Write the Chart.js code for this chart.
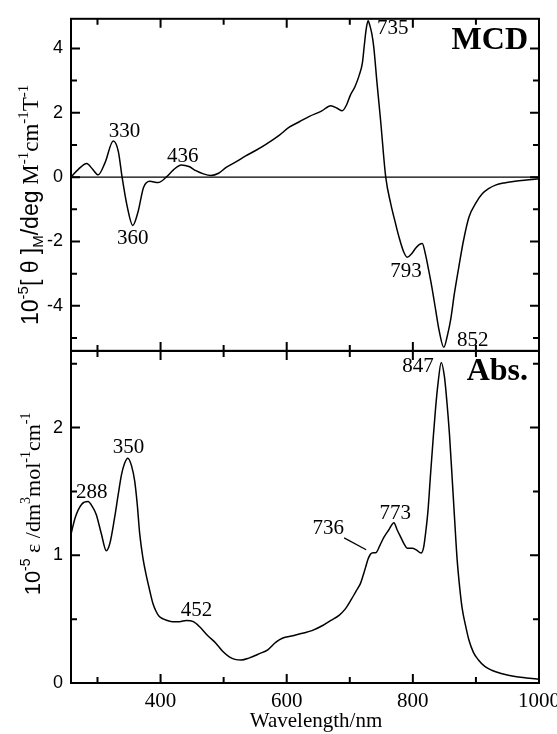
<!DOCTYPE html>
<html>
<head>
<meta charset="utf-8">
<script src="https://cdn.jsdelivr.net/npm/chart.js@4"></script>
<style>
  html, body { margin: 0; padding: 0; background: #fff; }
  #wrap { position: relative; width: 557px; height: 734px; }
</style>
</head>
<body>
<div id="wrap"><canvas id="spectra"></canvas></div>
<script>
// MCD spectrum (10^-5 [theta]M)
const mcdNm = [258, 270, 283, 292, 301, 312, 325, 333, 339, 347, 356, 364, 373, 383, 396, 409, 420, 433, 445, 456,
  468, 480, 492, 504, 520, 535, 550, 567, 588, 604, 620, 636, 655, 670, 680, 688, 695, 701, 708, 715,
  720, 723, 726, 729, 732, 735, 738, 743, 749, 757, 765, 772, 778, 785, 791, 798, 804, 810, 815, 820,
  825, 830, 836, 842, 849, 855, 860, 866, 873, 880, 889, 900, 910, 920, 931, 945, 962, 980, 1000];
const mcdVal = [0.0, 0.25, 0.42, 0.25, 0.07, 0.45, 1.12, 0.8, 0.0, -0.9, -1.5, -1.1, -0.32, -0.13, -0.17, 0.0, 0.22, 0.38, 0.33, 0.2,
  0.1, 0.05, 0.12, 0.3, 0.48, 0.66, 0.82, 1.02, 1.3, 1.55, 1.72, 1.89, 2.05, 2.22, 2.14, 2.06, 2.25, 2.55, 2.8, 3.17,
  3.55, 4.09, 4.6, 4.86, 4.7, 4.45, 4.05, 2.96, 1.73, 0.0, -0.83, -1.4, -1.86, -2.3, -2.49, -2.38, -2.22, -2.1, -2.06, -2.4,
  -2.88, -3.4, -4.11, -4.8, -5.29, -4.9, -4.42, -3.6, -2.78, -2.0, -1.24, -0.8, -0.52, -0.36, -0.25, -0.18, -0.13, -0.09, -0.05];

// Absorption spectrum (10^-5 epsilon)
const absNm = [258, 265, 275, 285, 292, 298, 306, 314, 320, 327, 333, 338, 343, 348, 354, 359, 363, 367, 372, 377,
  383, 388, 393, 398, 405, 419, 430, 441, 452, 462, 475, 488, 498, 509, 518, 528, 540, 557, 570, 583,
  593, 610, 625, 640, 657, 670, 683, 693, 702, 710, 717, 721, 725, 729, 733, 737, 741, 748, 754, 762,
  770, 775, 781, 786, 791, 795, 799, 806, 813, 817, 820, 824, 828, 832, 836, 840, 845, 850, 854, 858,
  862, 866, 870, 874, 878, 884, 889, 896, 904, 914, 925, 940, 962, 980, 1000];
const absVal = [1.165, 1.3, 1.4, 1.42, 1.38, 1.32, 1.17, 1.035, 1.1, 1.29, 1.48, 1.63, 1.72, 1.76, 1.7, 1.58, 1.4, 1.165, 0.98, 0.85,
  0.72, 0.62, 0.56, 0.52, 0.5, 0.48, 0.48, 0.49, 0.48, 0.44, 0.37, 0.31, 0.25, 0.205, 0.185, 0.18, 0.195, 0.23, 0.26, 0.32,
  0.35, 0.37, 0.39, 0.41, 0.45, 0.49, 0.53, 0.58, 0.65, 0.72, 0.78, 0.84, 0.905, 0.97, 1.01, 1.02, 1.02, 1.08, 1.14, 1.2,
  1.255, 1.2, 1.14, 1.09, 1.055, 1.055, 1.055, 1.04, 1.017, 1.06, 1.165, 1.35, 1.63, 1.9, 2.15, 2.35, 2.51, 2.4, 2.2, 1.95,
  1.63, 1.3, 0.98, 0.76, 0.59, 0.44, 0.335, 0.24, 0.18, 0.13, 0.1, 0.075, 0.05, 0.04, 0.03];

// tick labels
const xTicks = [400, 600, 800, 1000];
const mcdTicks = [-4, -2, 0, 2, 4];
const absTicks = [0, 1, 2];

// peak labels: [text, nm, value]
const mcdLabels = [['330', 343, 1.42], ['360', 356, -1.91], ['436', 435, 0.65], ['735', 768, 4.62],
  ['793', 789, -2.92], ['852', 895, -5.08]];
const absLabels = [['288', 291, 1.49], ['350', 349, 1.84], ['452', 457, 0.57], ['736', 666, 1.21],
  ['773', 772, 1.33], ['847', 808, 2.48]];

const SERIF = '"Liberation Serif", "Times New Roman", serif';
const SANS = '"Liberation Sans", Arial, sans-serif';

function toPts(xs, ys) {
  return xs.map((x, i) => ({x: x, y: ys[i]}));
}

// draws a run of text pieces centred on 0; each piece [text, 'n'|'sup'|'sub', font]
function drawRich(ctx, pieces, size) {
  let total = 0;
  const parts = pieces.map(p => {
    const s = p[1] === 'n' ? size : Math.round(size * 0.65);
    ctx.font = s + 'px ' + p[2];
    const w = ctx.measureText(p[0]).width;
    total += w;
    return {t: p[0], kind: p[1], font: ctx.font, w: w};
  });
  let x = -total / 2;
  const base = size * 0.35;
  parts.forEach(p => {
    ctx.font = p.font;
    let dy = 0;
    if (p.kind === 'sup') dy = -size * 0.42;
    if (p.kind === 'sub') dy = size * 0.22;
    ctx.fillText(p.t, x, base + dy);
    x += p.w;
  });
}

const framePlugin = {
  id: 'frame',
  afterDatasetsDraw(chart) {
    const ctx = chart.ctx;
    const xs = chart.scales.x;
    const panels = [chart.scales.yMcd, chart.scales.yAbs];
    const left = chart.chartArea.left, right = chart.chartArea.right;
    ctx.save();
    ctx.strokeStyle = '#000';
    ctx.fillStyle = '#000';

    // zero line of MCD
    const y0 = chart.scales.yMcd.getPixelForValue(0);
    ctx.lineWidth = 1.2;
    ctx.beginPath();
    ctx.moveTo(left, y0);
    ctx.lineTo(right, y0);
    ctx.stroke();

    // frames and inward ticks
    ctx.lineWidth = 2;
    panels.forEach(ys => {
      ctx.strokeRect(left, ys.top, right - left, ys.bottom - ys.top);
      ctx.beginPath();
      for (let v = 300; v < 1000; v += 100) {
        const px = xs.getPixelForValue(v);
        const len = v % 200 === 0 ? 9 : 6;
        ctx.moveTo(px, ys.top); ctx.lineTo(px, ys.top + len);
        ctx.moveTo(px, ys.bottom); ctx.lineTo(px, ys.bottom - len);
      }
      ctx.stroke();
    });

    const yTickSets = [
      [chart.scales.yMcd, -5, 4, 1, 2],
      [chart.scales.yAbs, 0.5, 2.5, 0.5, 1]
    ];
    yTickSets.forEach(([ys, from, to, step, major]) => {
      ctx.beginPath();
      for (let v = from; v <= to + 1e-9; v += step) {
        const py = ys.getPixelForValue(v);
        const isMajor = Math.abs(v / major - Math.round(v / major)) < 1e-6;
        const len = isMajor ? 9 : 6;
        ctx.moveTo(left, py); ctx.lineTo(left + len, py);
        ctx.moveTo(right, py); ctx.lineTo(right - len, py);
      }
      ctx.stroke();
    });

    // peak labels
    ctx.textAlign = 'center';
    ctx.textBaseline = 'middle';
    ctx.font = '21px ' + SERIF;
    mcdLabels.forEach(([t, nm, v]) => {
      ctx.fillText(t, xs.getPixelForValue(nm), chart.scales.yMcd.getPixelForValue(v));
    });
    absLabels.forEach(([t, nm, v]) => {
      ctx.fillText(t, xs.getPixelForValue(nm), chart.scales.yAbs.getPixelForValue(v));
    });
    // leader line for 736 shoulder
    ctx.lineWidth = 1.3;
    ctx.beginPath();
    ctx.moveTo(xs.getPixelForValue(691), chart.scales.yAbs.getPixelForValue(1.136));
    ctx.lineTo(xs.getPixelForValue(726), chart.scales.yAbs.getPixelForValue(1.043));
    ctx.stroke();

    // panel names
    ctx.font = 'bold 32px ' + SERIF;
    ctx.fillText('MCD', xs.getPixelForValue(922), chart.scales.yMcd.getPixelForValue(4.25));
    ctx.fillText('Abs.', xs.getPixelForValue(934), chart.scales.yAbs.getPixelForValue(2.44));

    // x title
    ctx.font = '21px ' + SERIF;
    ctx.fillText('Wavelength/nm', (left + right) / 2 + 11, 721);

    // y titles
    ctx.textAlign = 'left';
    ctx.textBaseline = 'alphabetic';
    const mcdMid = (chart.scales.yMcd.top + chart.scales.yMcd.bottom) / 2;
    ctx.save();
    ctx.translate(30, mcdMid + 20);
    ctx.rotate(-Math.PI / 2);
    drawRich(ctx, [['10', 'n', SANS], ['-5', 'sup', SANS], ['[ \u03b8 ]', 'n', SANS], ['M', 'sub', SANS],
      ['/deg', 'n', SANS], [' M', 'n', SERIF], ['-1', 'sup', SERIF], ['cm', 'n', SERIF], ['-1', 'sup', SERIF],
      ['T', 'n', SERIF], ['-1', 'sup', SERIF]], 23);
    ctx.restore();

    const absMid = (chart.scales.yAbs.top + chart.scales.yAbs.bottom) / 2;
    ctx.save();
    ctx.translate(32, absMid - 13);
    ctx.rotate(-Math.PI / 2);
    drawRich(ctx, [['10', 'n', SANS], ['-5', 'sup', SANS], [' \u03b5 ', 'n', SERIF], ['/dm', 'n', SERIF],
      ['3', 'sup', SERIF], ['mol', 'n', SERIF], ['-1', 'sup', SERIF], ['cm', 'n', SERIF], ['-1', 'sup', SERIF]], 22);
    ctx.restore();

    ctx.restore();
  }
};

const canvas = document.getElementById('spectra');
canvas.width = 557;
canvas.height = 734;

new Chart(canvas, {
  type: 'line',
  data: {
    datasets: [{
      label: 'Abs',
      data: toPts(absNm, absVal),
      xAxisID: 'x',
      yAxisID: 'yAbs',
      borderColor: '#000',
      borderWidth: 1.5,
      pointRadius: 0,
      cubicInterpolationMode: 'monotone'
    }, {
      label: 'MCD',
      data: toPts(mcdNm, mcdVal),
      xAxisID: 'x',
      yAxisID: 'yMcd',
      borderColor: '#000',
      borderWidth: 1.5,
      pointRadius: 0,
      cubicInterpolationMode: 'monotone'
    }]
  },
  options: {
    responsive: false,
    animation: false,
    layout: {padding: {left: 0, right: 18, top: 13, bottom: 0}},
    plugins: {
      legend: {display: false},
      tooltip: {enabled: false}
    },
    scales: {
      x: {
        type: 'linear',
        position: 'bottom',
        min: 258,
        max: 1000,
        grid: {display: false, drawTicks: false},
        border: {display: false},
        afterBuildTicks: s => { s.ticks = xTicks.map(v => ({value: v})); },
        afterFit: s => { s.height = 51; s.paddingLeft = 0; s.paddingRight = 0; },
        ticks: {
          color: '#000',
          padding: 6,
          maxRotation: 0,
          font: {family: SERIF, size: 21},
          callback: v => String(v)
        }
      },
      yAbs: {
        type: 'linear',
        position: 'left',
        stack: 'panels',
        stackWeight: 1,
        min: 0,
        max: 2.6,
        grid: {display: false, drawTicks: false},
        border: {display: false},
        afterBuildTicks: s => { s.ticks = absTicks.map(v => ({value: v})); },
        afterFit: s => { s.width = 71; },
        ticks: {color: '#000', padding: 8, font: {family: SANS, size: 18}}
      },
      yMcd: {
        type: 'linear',
        position: 'left',
        stack: 'panels',
        stackWeight: 1,
        min: -5.4,
        max: 4.92,
        grid: {display: false, drawTicks: false},
        border: {display: false},
        afterBuildTicks: s => { s.ticks = mcdTicks.map(v => ({value: v})); },
        afterFit: s => { s.width = 71; },
        ticks: {color: '#000', padding: 8, font: {family: SANS, size: 18}}
      }
    }
  },
  plugins: [framePlugin]
});
</script>
</body>
</html>
